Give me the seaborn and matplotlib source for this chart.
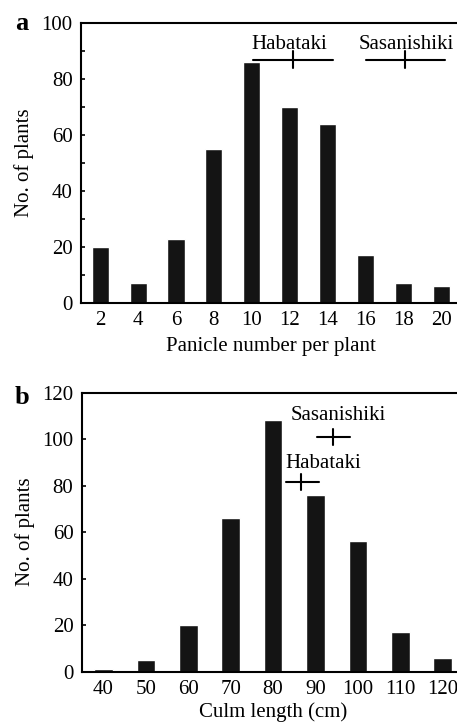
import seaborn as sns
import matplotlib.pyplot as plt
import pandas as pd
from matplotlib.ticker import MultipleLocator

# panel a: panicle number per plant
panicle_bins = ['2', '4', '6', '8', '10', '12', '14', '16', '18', '20']
panicle_counts = [20, 7, 23, 55, 86, 70, 64, 17, 7, 6]

# panel b: culm length
culm_bins = ['40', '50', '60', '70', '80', '90', '100', '110', '120']
culm_counts = [1, 5, 20, 66, 108, 76, 56, 17, 6]

# parent ranges (bin index units): min, mean, max, y
habataki_a = [4.02, 5.08, 6.13, 87]
sasanishiki_a = [7.0, 8.05, 9.1, 87]
habataki_b = [4.30, 4.67, 5.08, 81.5]
sasanishiki_b = [5.03, 5.42, 5.82, 101]

sns.set_style("white")
plt.rcParams['font.family'] = ['Liberation Serif', 'DejaVu Serif']
plt.rcParams['text.color'] = 'black'
plt.rcParams['axes.labelcolor'] = 'black'
plt.rcParams['xtick.color'] = 'black'
plt.rcParams['ytick.color'] = 'black'
FS = 15

fig = plt.figure(figsize=(4.57, 7.23), dpi=100)
ax_a = fig.add_axes([0.177, 0.581, 0.831, 0.387])
ax_b = fig.add_axes([0.179, 0.071, 0.837, 0.386])

bar_color = '#141414'


def draw_panel(ax, bins, counts, width, ymax, major, minor, xlabel, xpad):
    df = pd.DataFrame({'bin': bins, 'count': counts})
    sns.barplot(data=df, x='bin', y='count', color=bar_color, width=width,
                saturation=1, ax=ax)
    ax.set_xlim(-0.51, len(bins) - 0.49)
    ax.set_ylim(0, ymax)
    ax.yaxis.set_major_locator(MultipleLocator(major))
    if minor:
        ax.yaxis.set_minor_locator(MultipleLocator(minor))
    ax.tick_params(axis='y', which='both', direction='in', length=3, width=1.2,
                   left=True, labelsize=FS, pad=6)
    ax.tick_params(axis='x', length=0, labelsize=FS, pad=6)
    ax.set_xlabel(xlabel, fontsize=FS, labelpad=xpad)
    ax.set_ylabel('No. of plants', fontsize=FS, labelpad=5)
    for s in ax.spines.values():
        s.set_linewidth(1.5)
        s.set_color('black')


def draw_parent(ax, rng, name, tick_h, text_dx, text_dy):
    lo, mid, hi, y = rng
    ax.plot([lo, hi], [y, y], color='black', lw=1.5)
    ax.plot([mid, mid], [y - tick_h, y + tick_h], color='black', lw=1.5)
    ax.text(mid + text_dx, y + text_dy, name, ha='center', va='center', fontsize=FS)


draw_panel(ax_a, panicle_bins, panicle_counts, 0.45, 100, 20, 10,
           'Panicle number per plant', 5)
draw_panel(ax_b, culm_bins, culm_counts, 0.44, 120, 20, None,
           'Culm length (cm)', 2)

draw_parent(ax_a, habataki_a, 'Habataki', 3, -0.08, 5.5)
draw_parent(ax_a, sasanishiki_a, 'Sasanishiki', 3, 0.03, 5.5)
draw_parent(ax_b, sasanishiki_b, 'Sasanishiki', 3.4, 0.11, 9)
draw_parent(ax_b, habataki_b, 'Habataki', 3.4, 0.51, 8)

fig.text(22 / 457, 1 - 23 / 723, 'a', fontsize=19, fontweight='bold', ha='center', va='center')
fig.text(22 / 457, 1 - 397 / 723, 'b', fontsize=19, fontweight='bold', ha='center', va='center')

fig.savefig('out.png', dpi=100)
